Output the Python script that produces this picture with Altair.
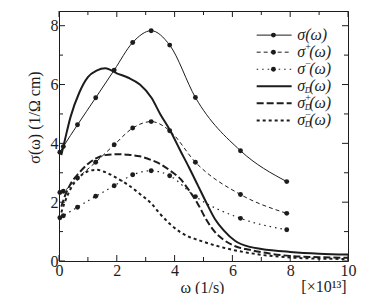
import altair as alt
import pandas as pd

# ---------------- data ----------------
omega_pts = [0.03, 0.15, 0.64, 1.27, 1.91, 2.55, 3.19, 3.83, 4.72, 6.28, 7.88]
sigma_tot = [3.70, 3.89, 4.63, 5.55, 6.49, 7.43, 7.83, 7.34, 5.56, 3.75, 2.70]
sigma_plus = [2.33, 2.37, 2.82, 3.36, 3.95, 4.52, 4.74, 4.43, 3.36, 2.26, 1.62]
sigma_minus = [1.47, 1.54, 1.83, 2.20, 2.56, 2.93, 3.07, 2.90, 2.19, 1.45, 1.06]

omega_curve = [0.08, 0.2, 0.4, 0.7, 1.0, 1.3, 1.6, 2.0, 2.4, 2.8, 3.2, 3.5, 3.85,
               4.2, 4.5, 4.8, 5.1, 5.4, 5.7, 6.1, 6.6, 7.0, 8.0, 9.0, 10.0]
sigma_D = [3.60, 4.10, 4.90, 5.72, 6.25, 6.47, 6.55, 6.38, 6.23, 6.00, 5.55, 5.00, 4.43,
           3.75, 3.18, 2.58, 1.98, 1.42, 1.04, 0.68, 0.48, 0.41, 0.31, 0.25, 0.22]
sigma_D_plus = [1.85, 2.20, 2.62, 3.00, 3.30, 3.50, 3.60, 3.63, 3.61, 3.56, 3.43, 3.30, 3.07,
                2.79, 2.40, 1.95, 1.40, 0.98, 0.72, 0.50, 0.38, 0.30, 0.17, 0.13, 0.11]
sigma_D_minus = [1.65, 2.00, 2.45, 2.85, 3.05, 3.10, 3.02, 2.82, 2.58, 2.28, 1.95, 1.60, 1.25,
                 0.98, 0.82, 0.72, 0.62, 0.53, 0.45, 0.36, 0.27, 0.21, 0.12, 0.08, 0.07]

x_major = [0, 2, 4, 6, 8, 10]
x_minor = [1, 3, 5, 7, 9]
y_major = [0, 2, 4, 6, 8]
y_minor = [1, 3, 5, 7]

legend_sup = ["", "+", "\u2212", "", "+", "\u2212"]
legend_sub = ["", "", "", "D", "D", "D"]

# ---------------- layout / style ----------------
W, H = 289, 250
XS = alt.Scale(domain=[0, 10], nice=False, zero=False)
YS = alt.Scale(domain=[0, 8.5], nice=False, zero=False)
INK = "#1c1c1c"
SERIF = "Times New Roman, Liberation Serif, DejaVu Serif, serif"

styles = [
    dict(strokeWidth=1.0),
    dict(strokeWidth=1.0, strokeDash=[4, 3]),
    dict(strokeWidth=1.2, strokeDash=[1.5, 4]),
    dict(strokeWidth=2.0),
    dict(strokeWidth=2.0, strokeDash=[7, 3]),
    dict(strokeWidth=2.0, strokeDash=[3, 3]),
]
series = [
    (omega_pts, sigma_tot, True),
    (omega_pts, sigma_plus, True),
    (omega_pts, sigma_minus, True),
    (omega_curve, sigma_D, False),
    (omega_curve, sigma_D_plus, False),
    (omega_curve, sigma_D_minus, False),
]

PX = 10 / W  # data units per pixel in x
LX0, LX1, LDOT, LTXT = 6.84, 8.05, 7.42, 8.24
legend_y = [7.68 - i * 0.58 for i in range(6)]

x_axis = alt.Axis(values=x_major, title="\u03c9 (1/s)", ticks=False, domain=False, grid=False,
                  labelFont=SERIF, labelFontSize=16, labelPadding=1, labelColor=INK,
                  labelFlush=False,
                  titleFont=SERIF, titleFontSize=16, titleFontWeight="normal", titleColor=INK,
                  titleX=143, titleY=31, titleBaseline="alphabetic", titleAlign="center")
y_axis = alt.Axis(values=y_major, title="\u03c3(\u03c9) (1/\u03a9 cm)", ticks=False, domain=False,
                  grid=False, labelFont=SERIF, labelFontSize=16, labelPadding=1, labelColor=INK,
                  labelFlush=False,
                  titleFont=SERIF, titleFontSize=16, titleFontWeight="normal", titleColor=INK,
                  titleAngle=270, titleX=-25, titleY=106, titleBaseline="middle",
                  titleAlign="center")


def X(f):
    return alt.X(f"{f}:Q", scale=XS, axis=x_axis)


def Y(f):
    return alt.Y(f"{f}:Q", scale=YS, axis=y_axis)


layers = []
for (xs, ys, dots), st in zip(series, styles):
    df = pd.DataFrame({"w": xs, "s": ys})
    layers.append(alt.Chart(df).mark_line(interpolate="monotone", color=INK, **st)
                  .encode(x=X("w"), y=Y("s")))
    if dots:
        layers.append(alt.Chart(df).mark_circle(size=24, color=INK, opacity=1)
                      .encode(x=X("w"), y=Y("s")))

# legend samples
for i, ((xs, ys, dots), st) in enumerate(zip(series, styles)):
    ldf = pd.DataFrame({"w": [LX0], "b": [LX1], "s": [legend_y[i]], "d": [LDOT]})
    layers.append(alt.Chart(ldf).mark_rule(color=INK, **st).encode(x=X("w"), x2="b:Q", y=Y("s")))
    if dots:
        layers.append(alt.Chart(ldf).mark_circle(size=24, color=INK, opacity=1)
                      .encode(x=X("d"), y=Y("s")))

tail_x = [LTXT + (8 if (sp == "" and sb == "") else 12) * PX
          for sp, sb in zip(legend_sup, legend_sub)]
leg = pd.DataFrame({"s": legend_y, "w": [LTXT] * 6, "sup": legend_sup, "sub": legend_sub,
                    "tx": tail_x, "main": ["\u03c3"] * 6, "tail": ["(\u03c9)"] * 6})
base_t = alt.Chart(leg)
layers.append(base_t.mark_text(font=SERIF, fontSize=16, fontStyle="italic", align="left",
                               baseline="middle", color=INK)
              .encode(x=X("w"), y=Y("s"), text="main:N"))
layers.append(base_t.mark_text(font=SERIF, fontSize=10, align="left", baseline="middle",
                               dx=8, dy=-5, color=INK)
              .encode(x=X("w"), y=Y("s"), text="sup:N"))
layers.append(base_t.mark_text(font=SERIF, fontSize=9, fontStyle="italic", align="left",
                               baseline="middle", dx=7.5, dy=4, color=INK)
              .encode(x=X("w"), y=Y("s"), text="sub:N"))
layers.append(base_t.mark_text(font=SERIF, fontSize=16, fontStyle="italic", align="left",
                               baseline="middle", color=INK)
              .encode(x=X("tx"), y=Y("s"), text="tail:N"))


# inward ticks on all four sides
def ticks(vals, side, length):
    d = pd.DataFrame({"v": vals})
    c = alt.Chart(d).mark_rule(color=INK, strokeWidth=1)
    if side == "bottom":
        return c.encode(x=X("v"), y=alt.value(H), y2=alt.value(H - length))
    if side == "top":
        return c.encode(x=X("v"), y=alt.value(0), y2=alt.value(length))
    if side == "left":
        return c.encode(y=Y("v"), x=alt.value(0), x2=alt.value(length))
    return c.encode(y=Y("v"), x=alt.value(W), x2=alt.value(W - length))


for side in ["bottom", "top"]:
    layers.append(ticks(x_major, side, 6))
    layers.append(ticks(x_minor, side, 4))
for side in ["left", "right"]:
    layers.append(ticks(y_major, side, 6))
    layers.append(ticks(y_minor, side, 4))

# exponent label
layers.append(alt.Chart(pd.DataFrame({"t": ["[\u00d710\u00b9\u00b3]"]})).mark_text(
    font=SERIF, fontSize=16, align="center", baseline="alphabetic", color=INK).encode(
    x=alt.value(265), y=alt.value(H + 31), text="t:N"))

chart = alt.layer(*layers).properties(
    width=W, height=H,
    autosize=alt.AutoSizeParams(type="none"),
    padding={"left": 51, "top": 3, "right": 26, "bottom": 33},
    background="white",
).configure_view(stroke=INK, strokeWidth=1)

chart.save("out.html", embed_options={"renderer": "svg", "actions": False})
